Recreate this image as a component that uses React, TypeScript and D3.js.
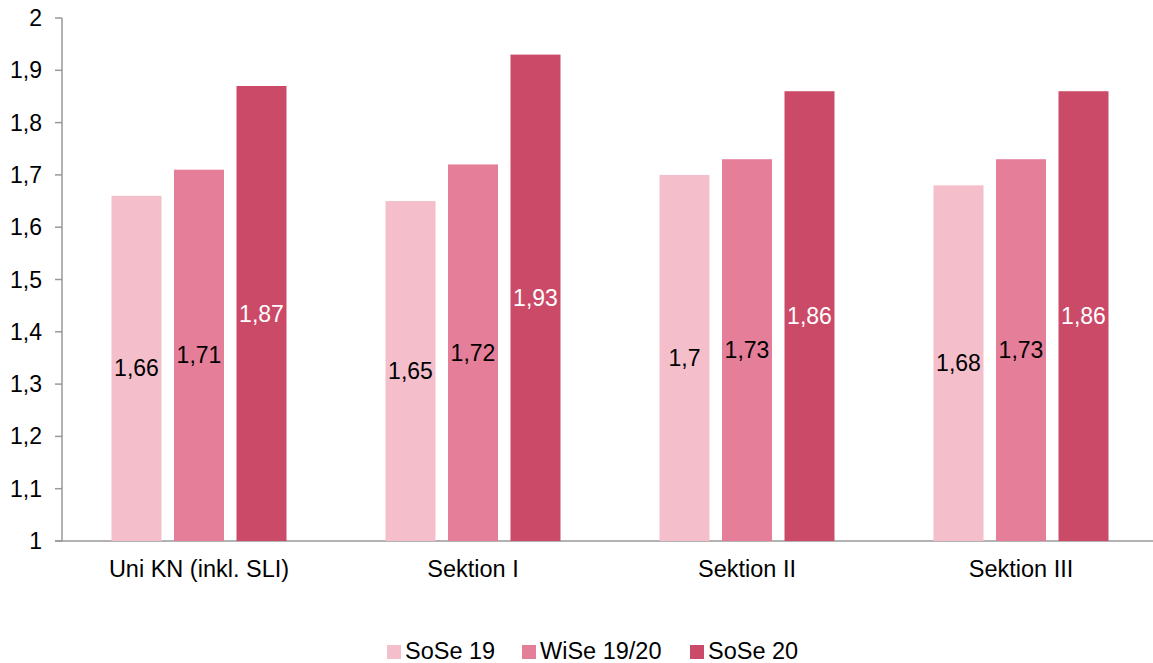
import React from "react";
import * as d3 from "d3";

const categories = ["Uni KN (inkl. SLI)", "Sektion I", "Sektion II", "Sektion III"];
const seriesNames = ["SoSe 19", "WiSe 19/20", "SoSe 20"];
const sose19 = [1.66, 1.65, 1.7, 1.68];
const wise1920 = [1.71, 1.72, 1.73, 1.73];
const sose20 = [1.87, 1.93, 1.86, 1.86];
const yTicks = [1, 1.1, 1.2, 1.3, 1.4, 1.5, 1.6, 1.7, 1.8, 1.9, 2];
const colors = ["#F4BFCB", "#E57F99", "#CB4A68"];
const labelColors = ["#000", "#000", "#fff"];

const W = 1153, H = 663;
const left = 62, right = 1158, top = 18, bottom = 541;
const font = "'Liberation Sans', Arial, sans-serif";
const fmt = (v: number) => String(v).replace(".", ",");

export default function App() {
  const series = [sose19, wise1920, sose20];
  const x = d3.scaleBand<string>().domain(categories).range([left, right]).padding(0);
  const y = d3.scaleLinear().domain([1, 2]).range([bottom, top]);
  const barW = 50, step = 62.5;
  return (
    <svg width={W} height={H} style={{ position: "absolute", left: 0, top: 0, background: "#fff" }}>
      <line x1={left} x2={left} y1={top} y2={bottom} stroke="#999" strokeWidth={1.5} />
      <line x1={left - 7} x2={W} y1={bottom} y2={bottom} stroke="#999" strokeWidth={1.5} />
      {yTicks.map((t) => (
        <g key={t}>
          <line x1={left - 7} x2={left} y1={y(t)} y2={y(t)} stroke="#999" strokeWidth={1.5} />
          <text x={42} y={y(t)} dy="0.35em" textAnchor="end" fontFamily={font} fontSize={23} fill="#000">{fmt(t)}</text>
        </g>
      ))}
      {categories.map((c, i) => {
        const cx = x(c)! + x.bandwidth() / 2;
        return (
          <g key={c}>
            {series.map((s, j) => {
              const bx = cx + (j - 1) * step - barW / 2;
              const v = s[i];
              return (
                <g key={j}>
                  <rect x={bx} y={y(v)} width={barW} height={bottom - y(v)} fill={colors[j]} />
                  <text x={bx + barW / 2} y={y((1 + v) / 2)} dy="0.35em" textAnchor="middle" fontFamily={font} fontSize={23} fill={labelColors[j]}>{fmt(v)}</text>
                </g>
              );
            })}
            <text x={cx} y={577} textAnchor="middle" fontFamily={font} fontSize={23.5} fill="#000">{c}</text>
          </g>
        );
      })}
      {seriesNames.map((n, j) => {
        const lx = [387, 522, 690][j];
        return (
          <g key={n}>
            <rect x={lx} y={645} width={14} height={14} fill={colors[j]} />
            <text x={lx + 18} y={659} fontFamily={font} fontSize={23.5} fill="#000">{n}</text>
          </g>
        );
      })}
    </svg>
  );
}
